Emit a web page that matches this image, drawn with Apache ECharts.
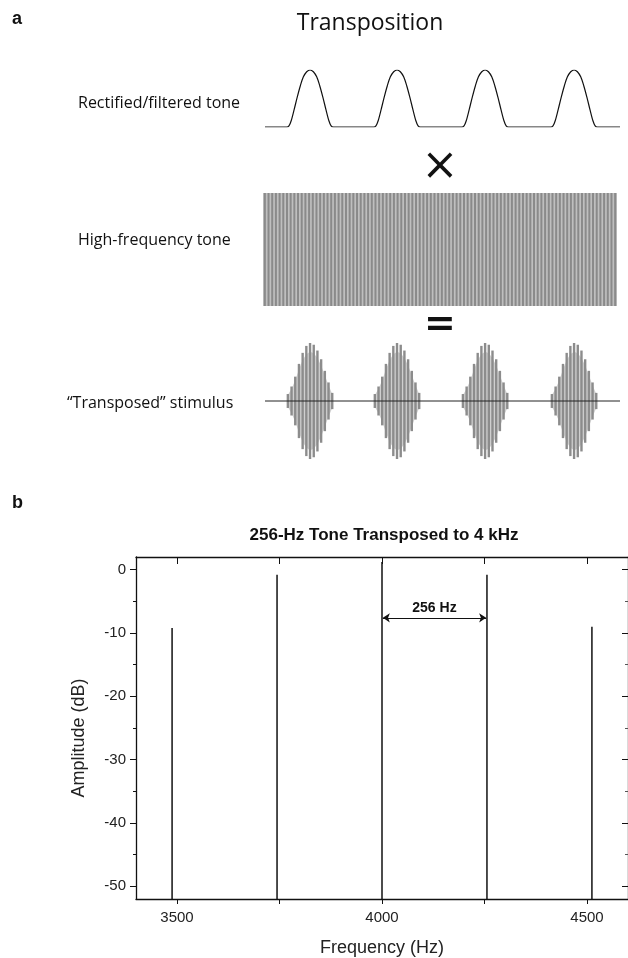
<!DOCTYPE html>
<html>
<head>
<meta charset="utf-8">
<script src="https://cdn.jsdelivr.net/npm/echarts@6.0.0/dist/echarts.min.js"></script>
<style>
  html, body { margin: 0; padding: 0; background: #fff; }
  #chart { width: 628px; height: 958px; }
</style>
</head>
<body>
<div id="chart"></div>
<script>
// panel a: schematic waveforms (time in ms)
var humpCentres = [2.03, 5.95, 9.92, 13.93];
var humpOffsets = [-1.05, -0.95, -0.85, -0.72, -0.58, -0.44, -0.3, -0.15, 0, 0.15, 0.3, 0.44, 0.58, 0.72, 0.85, 0.95, 1.05];
var humpHeights = [0, 0.02, 0.11, 0.3, 0.52, 0.72, 0.88, 0.97, 1.0, 0.97, 0.88, 0.72, 0.52, 0.3, 0.11, 0.02, 0];
var carrierStripeCount = 96;
var burstStripeSpacing = 0.1667;
var burstStripeAmps = [0.12, 0.25, 0.42, 0.64, 0.83, 0.95, 1.0, 0.97, 0.87, 0.72, 0.52, 0.32, 0.14];

// panel b: spectrum
var peakFreqs = [3488, 3744, 4000, 4256, 4512];
var peakAmps = [-9.2, -0.8, 1.2, -0.8, -9.0];
var xTickValues = [3500, 3750, 4000, 4250, 4500];
var xLabelValues = [3500, 4000, 4500];
var yMajorTicks = [0, -10, -20, -30, -40, -50];
var yMinorTicks = [-5, -15, -25, -35, -45];

var T_END = 16;

// rectified / filtered tone
var rectData = [[0, 0]];
humpCentres.forEach(function (c) {
    for (var i = 0; i < humpOffsets.length; i++) {
        rectData.push([c + humpOffsets[i], humpHeights[i]]);
    }
});
rectData.push([T_END, 0]);

// high-frequency tone stripes
var carrierData = [];
for (var i = 0; i < carrierStripeCount; i++) {
    carrierData.push([(i + 0.5) * T_END / carrierStripeCount, 1]);
}

// transposed bursts
var burstData = [];
var envData = [];
var mid = (burstStripeAmps.length - 1) / 2;
humpCentres.forEach(function (c) {
    var pts = [];
    burstStripeAmps.forEach(function (a, k) {
        burstData.push([c + (k - mid) * burstStripeSpacing, a]);
        pts.push([c + (k - mid) * burstStripeSpacing, a]);
    });
    envData.push(pts);
});

// spectrum lines (floor lies below the axis and is clipped)
var FLOOR = -60;
var specData = [];
peakFreqs.forEach(function (f, i) {
    specData.push([f, FLOOR], [f, peakAmps[i]], [f, FLOOR]);
});

function stripeRender(color, w) {
    return function (params, api) {
        var x = api.value(0), a = api.value(1);
        var top = api.coord([x, a]);
        var bot = api.coord([x, -a]);
        return {
            type: 'rect',
            shape: { x: top[0] - w / 2, y: top[1], width: w, height: bot[1] - top[1] },
            style: { fill: color }
        };
    };
}

var chart = echarts.init(document.getElementById('chart'));
var hidden = { show: false };
var blk = '#111';
var sansA = '"Open Sans", "Noto Sans", sans-serif';
var sansB = '"Liberation Sans", Arial, sans-serif';
var plainNum = function (v) { return String(v); };

var option = {
    animation: false,
    backgroundColor: '#fff',
    grid: [
        { left: 265, right: 8, top: 70, height: 57 },
        { left: 263, right: 11, top: 193, height: 113 },
        { left: 265, right: 8, top: 343, height: 116 },
        { left: 136, right: -2, top: 557, bottom: 57 }
    ],
    xAxis: [
        { gridIndex: 0, type: 'value', min: 0, max: T_END, show: false },
        { gridIndex: 1, type: 'value', min: 0, max: T_END, show: false },
        { gridIndex: 2, type: 'value', min: 0, max: T_END, show: false },
        {
            gridIndex: 3, type: 'value', min: 3400, max: 4600, position: 'bottom',
            axisLine: { onZero: false, lineStyle: { color: blk, width: 1.3 } },
            axisTick: { customValues: xTickValues, length: 5, lineStyle: { color: blk } },
            axisLabel: { customValues: xLabelValues, formatter: plainNum, color: '#222', fontSize: 15, fontFamily: sansB, margin: 11 },
            splitLine: hidden,
            name: 'Frequency (Hz)', nameLocation: 'middle', nameGap: 40,
            nameTextStyle: { color: '#222', fontSize: 18, fontFamily: sansB }
        },
        {
            gridIndex: 3, type: 'value', min: 3400, max: 4600, position: 'top',
            axisLine: { onZero: false, lineStyle: { color: blk, width: 1.3 } },
            axisTick: { customValues: xTickValues, inside: true, length: 7, lineStyle: { color: blk } },
            axisLabel: hidden, splitLine: hidden
        }
    ],
    yAxis: [
        { gridIndex: 0, type: 'value', min: 0, max: 1, show: false },
        { gridIndex: 1, type: 'value', min: -1, max: 1, show: false },
        { gridIndex: 2, type: 'value', min: -1, max: 1, show: false },
        {
            gridIndex: 3, type: 'value', min: -52, max: 2, position: 'left',
            axisLine: { show: true, onZero: false, lineStyle: { color: blk, width: 1.3 } },
            axisTick: { show: true, customValues: yMajorTicks, length: 6, lineStyle: { color: blk } },
            axisLabel: { customValues: yMajorTicks, formatter: plainNum, color: '#222', fontSize: 15, fontFamily: sansB, margin: 10 },
            splitLine: hidden
        },
        {
            gridIndex: 3, type: 'value', min: -52, max: 2, position: 'left',
            axisLine: { show: false, onZero: false },
            axisTick: { show: true, customValues: yMinorTicks, length: 3, lineStyle: { color: blk } },
            axisLabel: hidden, splitLine: hidden
        },
        {
            gridIndex: 3, type: 'value', min: -52, max: 2, position: 'right',
            axisLine: { show: true, onZero: false, lineStyle: { color: blk, width: 1.3 } },
            axisTick: { show: true, customValues: yMajorTicks, inside: true, length: 6, lineStyle: { color: blk } },
            axisLabel: hidden, splitLine: hidden
        },
        {
            gridIndex: 3, type: 'value', min: -52, max: 2, position: 'right',
            axisLine: { show: false, onZero: false },
            axisTick: { show: true, customValues: yMinorTicks, inside: true, length: 3, lineStyle: { color: '#555' } },
            axisLabel: hidden, splitLine: hidden
        }
    ],
    series: [
        {
            type: 'line', xAxisIndex: 0, yAxisIndex: 0, data: rectData,
            showSymbol: false, smooth: 0.3,
            lineStyle: { color: blk, width: 1.2 }
        },
        {
            type: 'custom', xAxisIndex: 1, yAxisIndex: 1,
            data: [[T_END / 2, 1]],
            renderItem: function (params, api) {
                var p0 = api.coord([0, 1]);
                var p1 = api.coord([T_END, -1]);
                return {
                    type: 'rect',
                    shape: { x: p0[0], y: p0[1], width: p1[0] - p0[0], height: p1[1] - p0[1] },
                    style: { fill: '#bfbfbf' }
                };
            }
        },
        {
            type: 'custom', xAxisIndex: 1, yAxisIndex: 1, data: carrierData,
            renderItem: stripeRender('#8a8a8a', 2)
        },
        {
            type: 'line', xAxisIndex: 2, yAxisIndex: 2, data: [[0, 0], [T_END, 0]],
            showSymbol: false, lineStyle: { color: '#222', width: 1 }
        },
        {
            // light envelope fill behind each burst
            type: 'custom', xAxisIndex: 2, yAxisIndex: 2,
            data: envData.map(function (p, i) { return [humpCentres[i], i]; }),
            renderItem: function (params, api) {
                var pts = envData[params.dataIndex];
                var up = pts.map(function (p) { return api.coord([p[0], p[1] * 0.85]); });
                var dn = pts.slice().reverse().map(function (p) { return api.coord([p[0], -p[1] * 0.85]); });
                return { type: 'polygon', shape: { points: up.concat(dn) }, style: { fill: '#cfcfcf' } };
            }
        },
        {
            type: 'custom', xAxisIndex: 2, yAxisIndex: 2, data: burstData,
            renderItem: stripeRender('#8c8c8c', 2.4)
        },
        {
            type: 'line', xAxisIndex: 3, yAxisIndex: 3, data: specData,
            showSymbol: false, clip: true,
            lineStyle: { color: blk, width: 1.5 },
            markLine: {
                silent: true, symbol: ['arrow', 'arrow'], symbolSize: 7,
                lineStyle: { color: blk, width: 1, type: 'solid' },
                label: {
                    show: true, position: 'insideMiddleTop', formatter: '256 Hz',
                    color: blk, fontSize: 14, fontWeight: 'bold', fontFamily: sansB, distance: 3
                },
                data: [[{ coord: [4002, -7.6] }, { coord: [4254, -7.6] }]]
            }
        }
    ],
    graphic: [
        { type: 'text', x: 12, y: 19, style: { text: 'a', font: 'bold 18px ' + sansB, fill: blk, verticalAlign: 'middle' } },
        { type: 'text', x: 370, y: 23, style: { text: 'Transposition', font: '23px ' + sansA, fill: blk, align: 'center', verticalAlign: 'middle' } },
        { type: 'text', x: 78, y: 103, style: { text: 'Rectified/filtered tone', font: '16px ' + sansA, fill: blk, verticalAlign: 'middle' } },
        { type: 'text', x: 440, y: 168, style: { text: '\u00d7', font: '44px "DejaVu Sans", sans-serif', fill: blk, align: 'center', verticalAlign: 'middle' } },
        { type: 'text', x: 78, y: 240, style: { text: 'High-frequency tone', font: '16px ' + sansA, fill: blk, verticalAlign: 'middle' } },
        { type: 'text', x: 440, y: 325, style: { text: '=', font: 'bold 38px "DejaVu Sans", sans-serif', fill: blk, align: 'center', verticalAlign: 'middle' } },
        { type: 'text', x: 67, y: 403, style: { text: '\u201cTransposed\u201d stimulus', font: '16px ' + sansA, fill: blk, verticalAlign: 'middle' } },
        { type: 'text', x: 12, y: 503, style: { text: 'b', font: 'bold 18px ' + sansB, fill: blk, verticalAlign: 'middle' } },
        { type: 'text', x: 384, y: 535, style: { text: '256-Hz Tone Transposed to 4 kHz', font: 'bold 17px ' + sansB, fill: blk, align: 'center', verticalAlign: 'middle' } },
        { type: 'text', x: 79, y: 738, rotation: Math.PI / 2, style: { text: 'Amplitude (dB)', font: '18px ' + sansB, fill: '#222', align: 'center', verticalAlign: 'middle' } }
    ]
};
chart.setOption(option);
</script>
</body>
</html>
